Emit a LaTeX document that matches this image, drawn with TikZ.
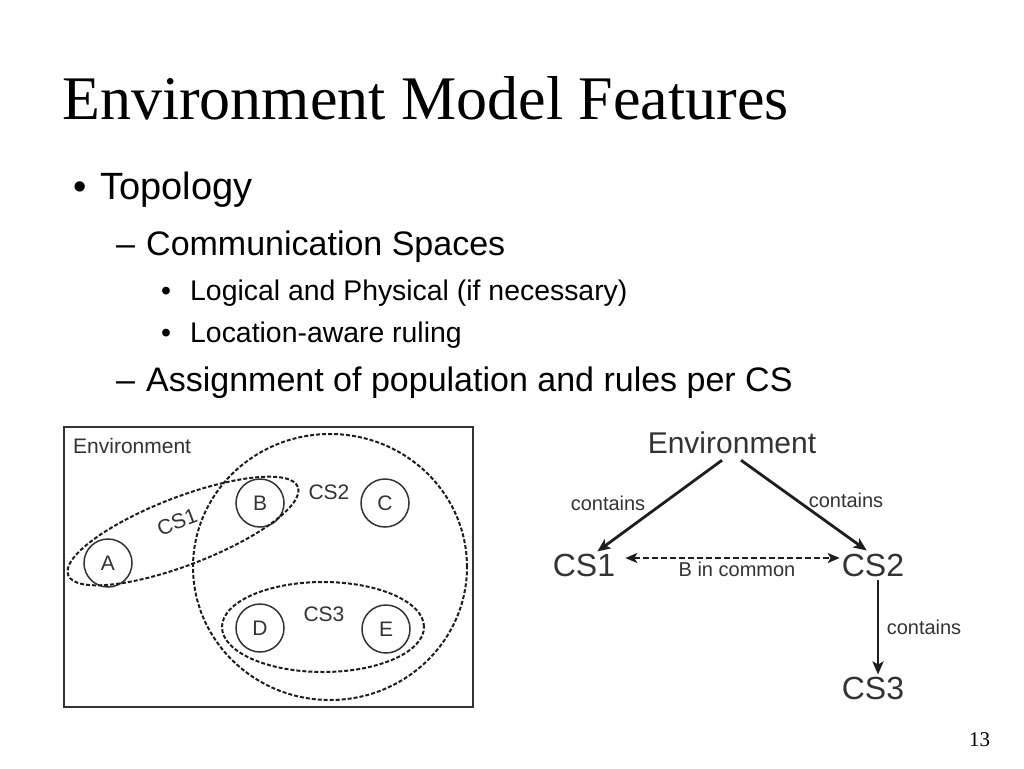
\documentclass[tikz,border=0pt]{standalone}
\usepackage{fontspec}
\setmainfont{Liberation Serif}
\newfontfamily\arial{Liberation Sans}
\usetikzlibrary{shapes.geometric,arrows.meta,calc}
\definecolor{dtxt}{HTML}{333333}
\definecolor{dline}{HTML}{1E1E1E}
\begin{document}
\begin{tikzpicture}[x=1pt,y=-1pt,
  txt/.style={inner sep=0pt,anchor=base west},
  lone/.style={txt,font=\arial\fontsize{38}{38}\selectfont},
  ltwo/.style={txt,font=\arial\fontsize{34}{34}\selectfont},
  lthree/.style={txt,font=\arial\fontsize{28.4}{28.4}\selectfont},
  dlab/.style={inner sep=0pt,text=dtxt,font=\arial\fontsize{21}{21}\selectfont},
  member/.style={circle,draw=dtxt,line width=1.5pt,minimum size=48pt,inner sep=0pt,text=dtxt,font=\arial\fontsize{21}{21}\selectfont},
  cspace/.style={draw=dline,line width=2pt,dash pattern=on 4pt off 2pt,inner sep=0pt},
  big/.style={inner sep=2pt,text=dtxt,font=\arial\fontsize{32}{32}\selectfont},
  small/.style={inner sep=0pt,text=dtxt,font=\arial\fontsize{20}{20}\selectfont},
  arr/.style={draw=dline,line width=2.8pt,-{Stealth[length=13pt,width=11pt,inset=3pt]}},
  darr/.style={draw=dline,line width=2.4pt,dash pattern=on 6pt off 3pt,{Stealth[length=12pt,width=10pt,inset=3pt]}-{Stealth[length=12pt,width=10pt,inset=3pt]}}
]
\path[use as bounding box,fill=white] (0,0) rectangle (1024,768);

% title
\node[txt,font=\fontsize{62}{62}\selectfont] (title) at (62,119) {Environment Model Features};

% bullets
\node[lone] (b1) at (73,199) {•};
\node[lone] (t1) at (100,199) {Topology};
\node[ltwo] (b2) at (116,255) {–};
\node[ltwo] (t2) at (146,255) {Communication Spaces};
\node[lthree] (b3) at (161,300) {•};
\node[lthree] (t3) at (190,300) {Logical and Physical (if necessary)};
\node[lthree] (b4) at (161,342) {•};
\node[lthree] (t4) at (190,342) {Location-aware ruling};
\node[ltwo] (b5) at (116,391) {–};
\node[ltwo] (t5) at (146,391) {Assignment of population and rules per CS};

% page number
\node[txt,font=\fontsize{21}{21}\selectfont] (pg) at (969,746) {13};

% left diagram
\node[draw=dtxt,line width=1.8pt,minimum width=409pt,minimum height=280pt,inner sep=0pt] (envbox) at (268.5,567) {};
\node[dlab,anchor=base west] (envL) at (73,453) {Environment};
\node[member] (A) at (108,563) {A};
\node[member] (B) at (260,503) {B};
\node[member] (C) at (385,503) {C};
\node[member] (D) at (260,628) {D};
\node[member] (E) at (386,629) {E};
\node[cspace,ellipse,minimum width=274pt,minimum height=266pt] (cs2L) at (330,567) {};
\node[cspace,ellipse,minimum width=202pt,minimum height=90pt] (cs3L) at (323,627) {};
\node[cspace,ellipse,minimum width=246pt,minimum height=68pt,rotate=21] (cs1L) at (183,531) {};
\node[dlab,rotate=21] (cs1t) at (177,522) {CS1};
\node[dlab] (cs2t) at (329,492) {CS2};
\node[dlab] (cs3t) at (324,614) {CS3};

% right diagram
\node[big,font=\arial\fontsize{30}{30}\selectfont] (envR) at (732,443) {Environment};
\node[big] (cs1R) at (584,565) {CS1};
\node[big] (cs2R) at (873,565) {CS2};
\node[big] (cs3R) at (873,688) {CS3};
\draw[arr] ([xshift=-10pt,yshift=-4pt]envR.south) -- ([xshift=-20pt,yshift=0pt]cs1R.north east);
\draw[arr] ([xshift=9pt,yshift=-4pt]envR.south) -- ([xshift=27pt,yshift=1pt]cs2R.north west);
\draw[arr] ([xshift=5pt,yshift=-1pt]cs2R.south) -- ([xshift=5pt,yshift=0pt]cs3R.north);
\draw[darr] ([xshift=8pt,yshift=7pt]cs1R.east) -- ([xshift=0pt,yshift=7pt]cs2R.west);
\node[small] (lab1) at (608,503) {contains};
\node[small] (lab2) at (846,500) {contains};
\node[small] (lab3) at (924,627) {contains};
\node[small] (lab4) at (737,569) {B in common};
\end{tikzpicture}
\end{document}
